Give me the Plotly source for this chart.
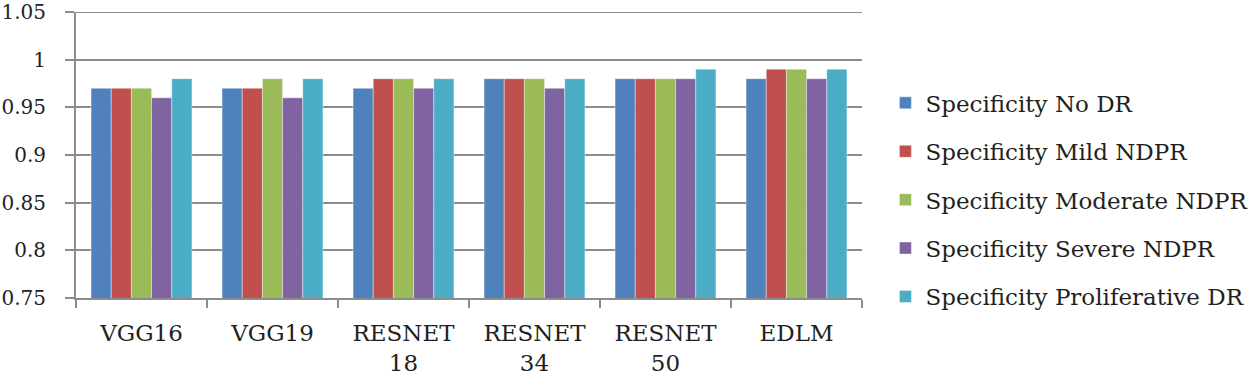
import plotly.graph_objects as go

categories = ["VGG16", "VGG19", "RESNET<br>18", "RESNET<br>34", "RESNET<br>50", "EDLM"]
series_names = [
    "Specificity No DR",
    "Specificity Mild NDPR",
    "Specificity Moderate NDPR",
    "Specificity Severe NDPR",
    "Specificity Proliferative DR",
]
no_dr = [0.97, 0.97, 0.97, 0.98, 0.98, 0.98]
mild = [0.97, 0.97, 0.98, 0.98, 0.98, 0.99]
moderate = [0.97, 0.98, 0.98, 0.98, 0.98, 0.99]
severe = [0.96, 0.96, 0.97, 0.97, 0.98, 0.98]
proliferative = [0.98, 0.98, 0.98, 0.98, 0.99, 0.99]
colors = ["#4F81BD", "#C0504D", "#9BBB59", "#8064A2", "#4BACC6"]
y_min, y_max = 0.75, 1.05

FONT = "DejaVu Serif"
GRID = "#8c8c8c"
fig = go.Figure()
for i, (name, vals) in enumerate(zip(series_names, [no_dr, mild, moderate, severe, proliferative])):
    fig.add_trace(go.Bar(
        x=categories, y=vals, name=name, legendgroup=f"g{i}",
        marker=dict(color=colors[i], line=dict(color="rgba(255,255,255,0.5)", width=0.8)),
    ))

# top gridline at the axis maximum
fig.add_shape(type="line", xref="paper", yref="y", x0=0, x1=1, y0=y_max, y1=y_max,
              line=dict(color=GRID, width=2), layer="below")

fig.update_layout(
    width=1248, height=376,
    margin=dict(l=76, r=386, t=12, b=78, autoexpand=False),
    plot_bgcolor="white", paper_bgcolor="white",
    barmode="group", bargap=0.23, bargroupgap=0,
    font=dict(family=FONT, size=22, color="#231f20"),
    showlegend=True,
    legend=dict(x=1.0298, y=0.343, xanchor="left", yanchor="middle",
                tracegroupgap=15.5, font=dict(family=FONT, size=23),
                itemwidth=30),
    xaxis=dict(showline=True, linecolor=GRID, linewidth=2, automargin=False,
               ticks="outside", tickson="boundaries", ticklen=8, tickcolor=GRID, tickwidth=2,
               ticklabelstandoff=13, tickfont=dict(family=FONT, size=23)),
    yaxis=dict(range=[y_min, y_max], dtick=0.05, showgrid=True, gridcolor=GRID, gridwidth=2,
               showline=True, linecolor=GRID, linewidth=2, automargin=False,
               ticks="outside", ticklen=9, tickcolor=GRID, tickwidth=2,
               ticklabeloverflow="allow", ticklabelstandoff=15,
               tickfont=dict(family=FONT, size=20), zeroline=False),
)
fig.write_html(
    "out.html",
    config={"displayModeBar": False},
    post_script="document.body.style.margin='0';document.body.style.overflow='hidden';",
)
